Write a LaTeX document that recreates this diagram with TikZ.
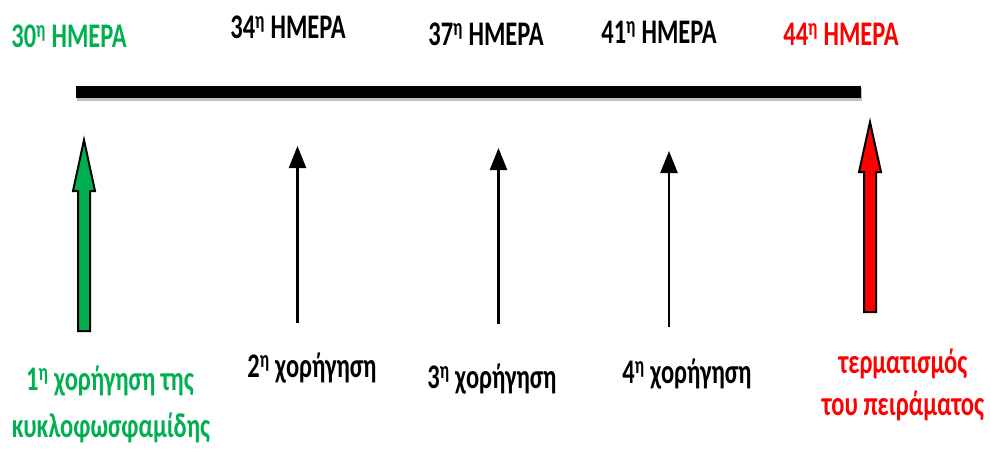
\documentclass[tikz,border=0pt]{standalone}
\usepackage{fontspec}
\usetikzlibrary{arrows.meta,calc}
\newfontfamily\labfont[FakeStretch=0.71]{Carlito}
\definecolor{dosegreen}{RGB}{0,176,80}
\definecolor{endred}{RGB}{255,0,0}
\tikzset{
  lab/.style={font=\labfont\bfseries\fontsize{34.5}{38}\selectfont, inner sep=0pt, anchor=base},
  timeline/.style={line width=12pt, line cap=butt, black},
  barshadow/.style={line width=13pt, line cap=butt, black, opacity=0.25},
  dosearrow/.style={line width=2.5pt, black, -{Triangle[length=22pt,width=17pt]}, shorten >=-1pt},
  blockarrow/.style={draw=black, line width=2pt, line join=miter}
}
\begin{document}
\begin{tikzpicture}[x=1pt,y=-1pt]
\useasboundingbox (0,0) rectangle (990,450);

% day labels above the time line
\node[lab, text=dosegreen] (d30) at (69,47) {30\textsuperscript{η} ΗΜΕΡΑ};
\node[lab] (d34) at (288,38) {34\textsuperscript{η} ΗΜΕΡΑ};
\node[lab] (d37) at (486,45) {37\textsuperscript{η} ΗΜΕΡΑ};
\node[lab] (d41) at (659,43) {41\textsuperscript{η} ΗΜΕΡΑ};
\node[lab, text=endred] (d44) at (841,45) {44\textsuperscript{η} ΗΜΕΡΑ};

% time line with a soft shadow
\coordinate (bl) at (76,91.5);
\coordinate (br) at (861,91.5);
\draw[barshadow] ($(bl)+(1,3)$) -- ($(br)+(1,3)$);
\draw[timeline] (bl) -- (br);

% first dose: green block arrow
\coordinate (g0) at (84,331);
\coordinate (g1) at (84,140);
\draw[blockarrow, fill=dosegreen]
  ($(g0)+(-6,0)$) -- ($(g1)+(-6,51)$) -- ($(g1)+(-11,51)$) -- (g1)
  -- ($(g1)+(11,51)$) -- ($(g1)+(6,51)$) -- ($(g0)+(6,0)$) -- cycle;

% end of experiment: red block arrow
\coordinate (r0) at (870,312);
\coordinate (r1) at (870,122);
\draw[blockarrow, fill=endred]
  ($(r0)+(-6,0)$) -- ($(r1)+(-6,50)$) -- ($(r1)+(-11,50)$) -- (r1)
  -- ($(r1)+(11,50)$) -- ($(r1)+(6,50)$) -- ($(r0)+(6,0)$) -- cycle;

% further doses: thin arrows
\coordinate (a2b) at (297.5,323);
\coordinate (a2t) at (297.5,147);
\coordinate (a3b) at (498.5,324);
\coordinate (a3t) at (498.5,149);
\coordinate (a4b) at (669,327);
\coordinate (a4t) at (669,152);
\draw[dosearrow] (a2b) -- (a2t);
\draw[dosearrow] (a3b) -- (a3t);
\draw[dosearrow] (a4b) -- (a4t);

% labels below the arrows
\node[lab, text=dosegreen] (c1a) at (110,390) {1\textsuperscript{η} χορήγηση της};
\node[lab, text=dosegreen] (c1b) at (111,437) {κυκλοφωσφαμίδης};
\node[lab] (c2) at (312,377) {2\textsuperscript{η} χορήγηση};
\node[lab] (c3) at (492,388) {3\textsuperscript{η} χορήγηση};
\node[lab] (c4) at (687,383) {4\textsuperscript{η} χορήγηση};
\node[lab, text=endred] (e1) at (903,373) {τερματισμός};
\node[lab, text=endred] (e2) at (903,415) {του πειράματος};
\end{tikzpicture}
\end{document}
